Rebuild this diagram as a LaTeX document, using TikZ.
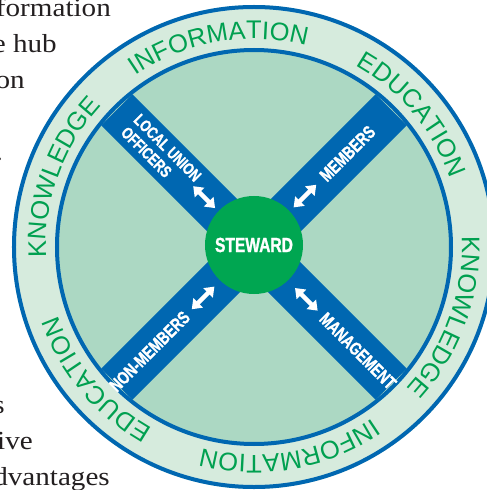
\documentclass[tikz,border=0pt]{standalone}
\usepackage{fontspec}
\usetikzlibrary{decorations.text,arrows.meta}
\definecolor{ringblue}{RGB}{0,103,177}
\definecolor{bandlight}{RGB}{214,235,221}
\definecolor{innermint}{RGB}{172,216,195}
\definecolor{stewardgreen}{RGB}{0,166,81}
\definecolor{ringgreen}{RGB}{0,160,80}
\definecolor{pagetext}{RGB}{35,31,32}
\newfontfamily\ringfont{Liberation Sans}
\newfontfamily\bandfont{Liberation Sans Bold}[FakeStretch=0.76,FakeBold=1.2]
\newfontfamily\pagefont{Liberation Serif}[FakeStretch=1.12]
\tikzset{
  bandlabel/.style={text=white, font=\bandfont\fontsize{18}{18}\selectfont, inner sep=0pt},
  flowarrow/.style={draw=white, line width=4.5pt, {Triangle[width=13pt,length=9pt]}-{Triangle[width=13pt,length=9pt]}},
  pageline/.style={text=pagetext, font=\pagefont\fontsize{26}{26}\selectfont, inner sep=0pt, anchor=base east},
  ringword/.style={decorate, decoration={text along path, text align=center, text format delimiters={|}{|}, text={|\ringfont\fontsize{25.5}{25.5}\selectfont\color{ringgreen}|#1}}},
  crossband/.style={fill=ringblue},
}
\begin{document}
\begin{tikzpicture}[x=1pt,y=1pt]
\useasboundingbox (-254,-243) rectangle (233,247);
\clip (-254,-243) rectangle (233,247);
% rings
\fill[bandlight] (0,0) circle[radius=242pt];
\draw[ringblue, line width=4pt] (0,0) circle[radius=240pt];
\fill[innermint] (0,0) circle[radius=197pt];
% cross bands
\fill[crossband, rotate=45] (-194,-22) rectangle (194,22);
\fill[crossband, rotate=-45] (-194,-22) rectangle (194,22);
\draw[ringblue, line width=4pt] (0,0) circle[radius=197pt];
% steward
\node[circle, fill=stewardgreen, minimum size=98pt, inner sep=0pt, text=white,
      font=\bandfont\fontsize{20.5}{20.5}\selectfont] (steward) at (0,2) {STEWARD};
% band labels
\node[bandlabel, rotate=45, anchor=west] (members) at (45:97pt) {MEMBERS};
\node[bandlabel, rotate=-45, anchor=west] (management) at (-45:97pt) {MANAGEMENT};
\node[bandlabel, rotate=45, anchor=east] (nonmembers) at (225:95pt) {NON-MEMBERS};
\node[bandlabel, rotate=-45, anchor=west, align=left,
      font=\bandfont\fontsize{16.5}{18}\selectfont] (officers) at (135:175pt) {LOCAL UNION\\OFFICERS};
% arrows
\coordinate (ura) at (45:56pt);  \coordinate (urb) at (45:88pt);
\coordinate (ula) at (135:55pt); \coordinate (ulb) at (135:86pt);
\coordinate (lla) at (225:56pt); \coordinate (llb) at (225:88pt);
\coordinate (lra) at (-45:58pt); \coordinate (lrb) at (-45:90pt);
\draw[flowarrow] (ura) -- (urb);
\draw[flowarrow] (ula) -- (ulb);
\draw[flowarrow] (lla) -- (llb);
\draw[flowarrow] (lra) -- (lrb);
% ring words
\path[ringword=INFORMATION] (145:208pt) arc[start angle=145, end angle=55, radius=208pt];
\path[ringword=EDUCATION] (85:208pt) arc[start angle=85, end angle=-5, radius=208pt];
\path[ringword=KNOWLEDGE] (25:208pt) arc[start angle=25, end angle=-65, radius=208pt];
\path[ringword=INFORMATION] (-35:208pt) arc[start angle=-35, end angle=-125, radius=208pt];
\path[ringword=EDUCATION] (-95:208pt) arc[start angle=-95, end angle=-185, radius=208pt];
\path[ringword=KNOWLEDGE] (205:208pt) arc[start angle=205, end angle=115, radius=208pt];
% page text fragments
\node[pageline] (p1) at (-143,230) {formation};
\node[pageline] (p2) at (-197,194) {e hub};
\node[pageline] (p3) at (-229,158) {on};
\node[pageline] (p4) at (-251,86) {.};
\node[pageline] (p5) at (-249,-166) {s};
\node[pageline] (p6) at (-221,-202) {ive};
\node[pageline] (p7) at (-144,-238) {dvantages};
\end{tikzpicture}
\end{document}
